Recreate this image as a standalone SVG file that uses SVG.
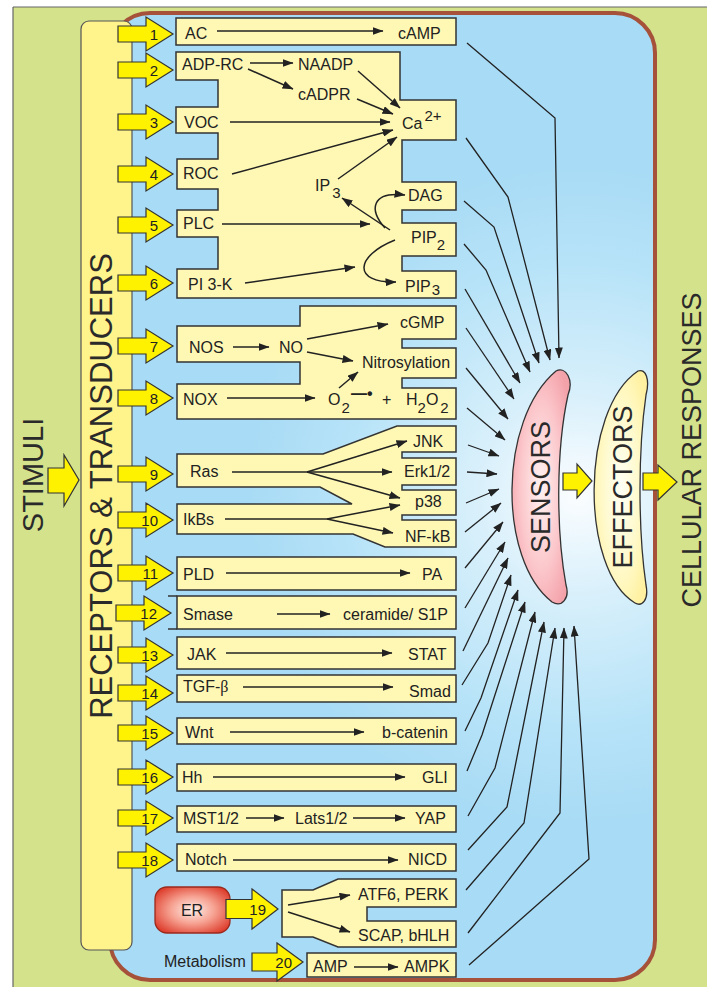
<svg xmlns="http://www.w3.org/2000/svg" xmlns:xlink="http://www.w3.org/1999/xlink" width="707" height="987" viewBox="0 0 707 987">
  <defs>
    <style>
      .t { font-family: "Liberation Sans", Arial, sans-serif; font-size: 16px; fill: #222; }
      .num { font-family: "Liberation Sans", Arial, sans-serif; font-size: 15px; fill: #222; text-anchor: end; }
      .big { font-family: "Liberation Sans", Arial, sans-serif; fill: #2a2a2a; text-anchor: middle; }
      .box { fill: #fff8b4; stroke: #333; stroke-width: 1.5; stroke-linejoin: miter; }
      .ya { fill: #fff200; stroke: #333; stroke-width: 1.2; stroke-linejoin: miter; }
      .ln { stroke: #222; stroke-width: 1.5; fill: none; marker-end: url(#ah); }
      .pl { stroke: #222; stroke-width: 1.5; fill: none; }
      .cn { stroke: #222; stroke-width: 1.3; fill: none; marker-end: url(#ah2); }
    </style>
    <marker id="ah" viewBox="0 0 11 8" refX="10.5" refY="4" markerWidth="11" markerHeight="8" markerUnits="userSpaceOnUse" orient="auto">
      <path d="M0,0 L11,4 L0,8 Z" fill="#222"/>
    </marker>
    <marker id="ah2" viewBox="0 0 11 8" refX="10.5" refY="4" markerWidth="11" markerHeight="8" markerUnits="userSpaceOnUse" orient="auto">
      <path d="M0,0 L11,4 L0,8 Z" fill="#222"/>
    </marker>
    <radialGradient id="cellFill" gradientUnits="userSpaceOnUse" cx="578" cy="495" r="330">
      <stop offset="0" stop-color="#fbfdff"/>
      <stop offset="0.3" stop-color="#d9f0fb"/>
      <stop offset="0.7" stop-color="#b7e3f8"/>
      <stop offset="1" stop-color="#a8dbf5"/>
    </radialGradient>
    <radialGradient id="sensFill" cx="0.5" cy="0.5" r="0.6">
      <stop offset="0" stop-color="#fff2f2"/>
      <stop offset="0.6" stop-color="#fbc6ca"/>
      <stop offset="1" stop-color="#f4a2aa"/>
    </radialGradient>
    <radialGradient id="effFill" cx="0.5" cy="0.5" r="0.6">
      <stop offset="0" stop-color="#fffff4"/>
      <stop offset="0.6" stop-color="#fff9c8"/>
      <stop offset="1" stop-color="#fff1a0"/>
    </radialGradient>
    <radialGradient id="erFill" cx="0.5" cy="0.5" r="0.6">
      <stop offset="0" stop-color="#fff0ea"/>
      <stop offset="0.5" stop-color="#f6a090"/>
      <stop offset="1" stop-color="#de3f2e"/>
    </radialGradient>
    <!-- numbered transducer arrow, origin at the tail centre -->
    <path id="na" d="M0,-8 H28 V-17 L55,0 L28,17 V8 H0 Z"/>
  </defs>

  <!-- background and frame -->
  <rect x="13" y="7" width="694" height="980" fill="#d5e28c"/>
  <line x1="13" y1="7" x2="707" y2="7" stroke="#666" stroke-width="1.2"/>
  <line x1="13" y1="7" x2="13" y2="987" stroke="#666" stroke-width="1.2"/>

  <!-- cell -->
  <rect id="cell" x="110" y="13" width="545" height="967" rx="40" fill="url(#cellFill)" stroke="#a6523b" stroke-width="4"/>

  <!-- stimuli -->
  <g id="stimuli">
    <text class="big" font-size="29" transform="translate(43,475) rotate(-90)">STIMULI</text>
    <path class="ya" d="M48,468 H64 V455 L79,480 L64,506 V493 H48 Z"/>
  </g>

  <!-- receptors bar -->
  <g id="receptors">
    <rect x="81" y="21" width="51" height="929" rx="8" fill="#fff38c" stroke="#555" stroke-width="1.2"/>
    <text class="big" font-size="31" transform="translate(112,486) rotate(-90)">RECEPTORS &amp; TRANSDUCERS</text>
  </g>

  <!-- pathway 1 -->
  <g id="p1">
    <rect class="box" x="176" y="18" width="280" height="27"/>
    <text class="t" x="185" y="39">AC</text>
    <text class="t" x="398" y="39">cAMP</text>
    <line class="ln" x1="217" y1="31" x2="383" y2="31"/>
  </g>

  <!-- pathways 2-6 -->
  <g id="p2-6">
    <path class="box" d="M176,52 H400 V100 H456 V140 H402 V182 H456 V210 H402 V223 H456 V256 H402 V271 H456 V298 H177 V269 H218 V237 H177 V210 H218 V189 H177 V159 H218 V133 H176 V107 H218 V80 H176 Z"/>
    <text class="t" x="182" y="70">ADP-RC</text>
    <text class="t" x="298" y="70">NAADP</text>
    <text class="t" x="298" y="100">cADPR</text>
    <text class="t" x="402" y="129">Ca<tspan dx="2" dy="-8" font-size="15">2+</tspan></text>
    <text class="t" x="184" y="128">VOC</text>
    <text class="t" x="183" y="179">ROC</text>
    <text class="t" x="183" y="229">PLC</text>
    <text class="t" x="188" y="290">PI 3-K</text>
    <text class="t" x="315" y="191">IP<tspan dx="2" dy="7" font-size="15">3</tspan></text>
    <text class="t" x="408" y="201">DAG</text>
    <text class="t" x="411" y="243">PIP<tspan dy="7" font-size="15">2</tspan></text>
    <text class="t" x="405" y="292">PIP<tspan dx="1" dy="3" font-size="15">3</tspan></text>
    <line class="ln" x1="250" y1="63" x2="293" y2="63"/>
    <line class="ln" x1="248" y1="69" x2="293" y2="89"/>
    <line class="ln" x1="358" y1="71" x2="400" y2="108"/>
    <line class="ln" x1="357" y1="99" x2="393" y2="114"/>
    <line class="ln" x1="230" y1="122" x2="390" y2="122"/>
    <line class="ln" x1="232" y1="174" x2="393" y2="130"/>
    <line class="ln" x1="338" y1="179" x2="397" y2="137"/>
    <line class="ln" x1="222" y1="224" x2="370" y2="224"/>
    <line class="ln" x1="245" y1="283" x2="355" y2="267"/>
    <line class="ln" x1="390" y1="230" x2="342" y2="198"/>
    <path class="ln" d="M385,228 C369,210 371,191 405,195"/>
    <path class="ln" d="M395,240 C355,256 352,283 396,282"/>
  </g>

  <!-- pathways 7-8 -->
  <g id="p7-8">
    <path class="box" d="M300,306 H456 V339 H402 V348 H456 V378 H402 V388 H456 V419 H177 V384 H300 V362 H177 V326 H300 Z"/>
    <text class="t" x="189" y="353">NOS</text>
    <text class="t" x="279" y="353">NO</text>
    <text class="t" x="400" y="328">cGMP</text>
    <text class="t" x="362" y="368">Nitrosylation</text>
    <text class="t" x="183" y="405">NOX</text>
    <text class="t" x="328" y="405">O<tspan dx="1" dy="8" font-size="15">2</tspan></text>
    <text class="t" x="351" y="399" font-weight="bold">—•</text>
    <text class="t" x="382" y="405">+</text>
    <text class="t" x="406" y="405">H<tspan dy="8" font-size="15">2</tspan><tspan dy="-8">O</tspan><tspan dx="2" dy="8" font-size="15">2</tspan></text>
    <line class="ln" x1="233" y1="347" x2="269" y2="347"/>
    <line class="ln" x1="307" y1="339" x2="388" y2="324"/>
    <line class="ln" x1="307" y1="352" x2="353" y2="361"/>
    <line class="ln" x1="227" y1="398" x2="315" y2="398"/>
    <line class="ln" x1="339" y1="388" x2="358" y2="372"/>
  </g>

  <!-- pathways 9-10 -->
  <g id="p9-10">
    <path class="box" d="M397,426 H456 V452 H402 V458 H456 V485 H402 V490 H456 V515 H402 V520 H456 V547 H385 L353,534 H177 V504 H352 L320,487 H177 V454 H323 Z"/>
    <text class="t" x="190" y="477">Ras</text>
    <text class="t" x="413" y="447">JNK</text>
    <text class="t" x="404" y="477">Erk1/2</text>
    <text class="t" x="415" y="507">p38</text>
    <text class="t" x="405" y="542">NF-kB</text>
    <text class="t" x="183" y="525">IkBs</text>
    <line class="pl" x1="232" y1="472" x2="307" y2="472"/>
    <line class="ln" x1="307" y1="472" x2="407" y2="441"/>
    <line class="ln" x1="307" y1="472" x2="392" y2="472"/>
    <line class="ln" x1="307" y1="472" x2="400" y2="498"/>
    <line class="pl" x1="225" y1="519" x2="327" y2="519"/>
    <line class="ln" x1="327" y1="519" x2="400" y2="505"/>
    <line class="ln" x1="327" y1="519" x2="393" y2="533"/>
  </g>

  <!-- pathways 11-18 -->
  <g id="p11">
    <rect class="box" x="177" y="557" width="279" height="33"/>
    <text class="t" x="183" y="580">PLD</text>
    <text class="t" x="422" y="580">PA</text>
    <line class="ln" x1="226" y1="573" x2="410" y2="573"/>
  </g>
  <g id="p12">
    <rect class="box" x="177" y="596" width="279" height="33"/>
    <line x1="168" y1="596" x2="177" y2="596" stroke="#333" stroke-width="1.5"/>
    <line x1="168" y1="629" x2="177" y2="629" stroke="#333" stroke-width="1.5"/>
    <text class="t" x="183" y="620">Smase</text>
    <text class="t" x="343" y="620">ceramide/ S1P</text>
    <line class="ln" x1="277" y1="614" x2="330" y2="614"/>
  </g>
  <g id="p13">
    <rect class="box" x="177" y="637" width="278" height="32"/>
    <text class="t" x="187" y="660">JAK</text>
    <text class="t" x="408" y="660">STAT</text>
    <line class="ln" x1="226" y1="653" x2="392" y2="653"/>
  </g>
  <g id="p14">
    <rect class="box" x="177" y="675" width="279" height="27"/>
    <text class="t" x="183" y="692">TGF-<tspan font-family="'Liberation Serif', serif">β</tspan></text>
    <text class="t" x="409" y="697">Smad</text>
    <line class="ln" x1="243" y1="687" x2="393" y2="687"/>
  </g>
  <g id="p15">
    <rect class="box" x="177" y="718" width="279" height="26"/>
    <text class="t" x="185" y="738">Wnt</text>
    <text class="t" x="382" y="738">b-catenin</text>
    <line class="ln" x1="230" y1="732" x2="364" y2="732"/>
  </g>
  <g id="p16">
    <rect class="box" x="177" y="764" width="279" height="27"/>
    <text class="t" x="182" y="783">Hh</text>
    <text class="t" x="422" y="783">GLI</text>
    <line class="ln" x1="213" y1="777" x2="405" y2="777"/>
  </g>
  <g id="p17">
    <rect class="box" x="177" y="806" width="279" height="26"/>
    <text class="t" x="183" y="824">MST1/2</text>
    <text class="t" x="295" y="824">Lats1/2</text>
    <text class="t" x="415" y="824">YAP</text>
    <line class="ln" x1="246" y1="818" x2="284" y2="818"/>
    <line class="ln" x1="353" y1="818" x2="405" y2="818"/>
  </g>
  <g id="p18">
    <rect class="box" x="177" y="844" width="279" height="27"/>
    <text class="t" x="185" y="865">Notch</text>
    <text class="t" x="408" y="865">NICD</text>
    <line class="ln" x1="233" y1="860" x2="398" y2="860"/>
  </g>

  <!-- pathway 19 (ER) -->
  <g id="p19">
    <rect x="155" y="887" width="75" height="46" rx="12" fill="url(#erFill)" stroke="#9a2a1e" stroke-width="1.3"/>
    <text class="t" x="192" y="916" text-anchor="middle">ER</text>
    <path class="box" d="M282,890 H313 L338,879 H456 V907 H367 V921 H456 V947 H338 L313,937 H282 Z"/>
    <text class="t" x="358" y="900">ATF6, PERK</text>
    <text class="t" x="358" y="941">SCAP, bHLH</text>
    <line class="ln" x1="288" y1="905" x2="350" y2="895"/>
    <line class="ln" x1="288" y1="912" x2="350" y2="932"/>
    <path class="ya" d="M226,899.5 H252 V889 L278,909 L252,929 V918.5 H226 Z"/>
    <text class="num" x="266" y="915">19</text>
  </g>

  <!-- pathway 20 (metabolism) -->
  <g id="p20">
    <text class="t" x="164" y="967">Metabolism</text>
    <path class="ya" d="M252,953 H277 V943 L303,962 L277,981 V971 H252 Z"/>
    <text class="num" x="292" y="968">20</text>
    <rect class="box" x="307" y="953" width="149" height="24"/>
    <text class="t" x="313" y="972">AMP</text>
    <text class="t" x="404" y="972">AMPK</text>
    <line class="ln" x1="354" y1="967" x2="398" y2="967"/>
  </g>

  <!-- numbered transducer arrows -->
  <g id="transducer-arrows">
    <use xlink:href="#na" class="ya" x="118" y="34"/>
    <use xlink:href="#na" class="ya" x="118" y="70"/>
    <use xlink:href="#na" class="ya" x="118" y="122"/>
    <use xlink:href="#na" class="ya" x="118" y="174"/>
    <use xlink:href="#na" class="ya" x="118" y="225"/>
    <use xlink:href="#na" class="ya" x="118" y="283"/>
    <use xlink:href="#na" class="ya" x="118" y="346"/>
    <use xlink:href="#na" class="ya" x="118" y="398"/>
    <use xlink:href="#na" class="ya" x="118" y="474"/>
    <use xlink:href="#na" class="ya" x="118" y="520"/>
    <use xlink:href="#na" class="ya" x="118" y="573"/>
    <use xlink:href="#na" class="ya" x="116" y="613"/>
    <use xlink:href="#na" class="ya" x="118" y="655"/>
    <use xlink:href="#na" class="ya" x="118" y="693"/>
    <use xlink:href="#na" class="ya" x="118" y="733"/>
    <use xlink:href="#na" class="ya" x="118" y="777"/>
    <use xlink:href="#na" class="ya" x="118" y="818"/>
    <use xlink:href="#na" class="ya" x="118" y="860"/>
    <text class="num" x="158" y="40">1</text>
    <text class="num" x="158" y="76">2</text>
    <text class="num" x="158" y="128">3</text>
    <text class="num" x="158" y="180">4</text>
    <text class="num" x="158" y="231">5</text>
    <text class="num" x="158" y="289">6</text>
    <text class="num" x="158" y="352">7</text>
    <text class="num" x="158" y="404">8</text>
    <text class="num" x="158" y="480">9</text>
    <text class="num" x="158" y="526">10</text>
    <text class="num" x="158" y="579">11</text>
    <text class="num" x="157" y="619">12</text>
    <text class="num" x="158" y="661">13</text>
    <text class="num" x="158" y="699">14</text>
    <text class="num" x="158" y="739">15</text>
    <text class="num" x="158" y="783">16</text>
    <text class="num" x="158" y="824">17</text>
    <text class="num" x="158" y="866">18</text>
  </g>

  <!-- connectors to the sensors -->
  <g id="connectors">
    <polyline class="cn" points="467,43 555,118 559,358"/>
    <polyline class="cn" points="466,138 508,197 550,360"/>
    <polyline class="cn" points="464,201 494,227 539,363"/>
    <polyline class="cn" points="464,244 486,270 530,372"/>
    <polyline class="cn" points="465,289 520,383"/>
    <polyline class="cn" points="466,328 514,399"/>
    <polyline class="cn" points="466,368 508,419"/>
    <polyline class="cn" points="467,408 505,440"/>
    <polyline class="cn" points="468,445 499,456"/>
    <polyline class="cn" points="467,472 497,474"/>
    <polyline class="cn" points="466,503 499,489"/>
    <polyline class="cn" points="465,532 501,503"/>
    <polyline class="cn" points="465,568 503,522"/>
    <polyline class="cn" points="465,608 505,542"/>
    <polyline class="cn" points="463,651 508,558"/>
    <polyline class="cn" points="462,685 488,643 511,575"/>
    <polyline class="cn" points="465,731 481,698 518,590"/>
    <polyline class="cn" points="467,771 482,735 525,602"/>
    <polyline class="cn" points="468,816 495,768 535,612"/>
    <polyline class="cn" points="468,850 507,807 544,622"/>
    <polyline class="cn" points="466,890 524,823 555,628"/>
    <polyline class="cn" points="468,933 560,813 564,628"/>
    <polyline class="cn" points="469,965 589,859 574,626"/>
  </g>

  <!-- sensors -->
  <g id="sensors">
    <path d="M556,371 C566,366 574,380 568,395 C556,450 556,530 566,585 C570,598 562,608 552,602 C498,560 498,420 556,371 Z" fill="url(#sensFill)" stroke="#333" stroke-width="1.3"/>
    <text class="big" font-size="27" transform="translate(550,487) rotate(-90)">SENSORS</text>
  </g>
  <path class="ya" d="M563,473 H577 V464 L592,481 L577,498 V490 H563 Z"/>

  <!-- effectors -->
  <g id="effectors">
    <path d="M638,371 C646,368 650,380 646,395 C638,450 638,530 646,585 C649,600 642,607 635,603 C580,570 580,410 638,371 Z" fill="url(#effFill)" stroke="#333" stroke-width="1.3"/>
    <text class="big" font-size="27" transform="translate(632,487) rotate(-90)">EFFECTORS</text>
  </g>
  <path class="ya" d="M643,473 H658 V465 L677,482 L658,500 V490 H643 Z"/>

  <!-- responses -->
  <g id="responses">
    <text class="big" font-size="27" transform="translate(701,450) rotate(-90)">CELLULAR RESPONSES</text>
  </g>
</svg>
